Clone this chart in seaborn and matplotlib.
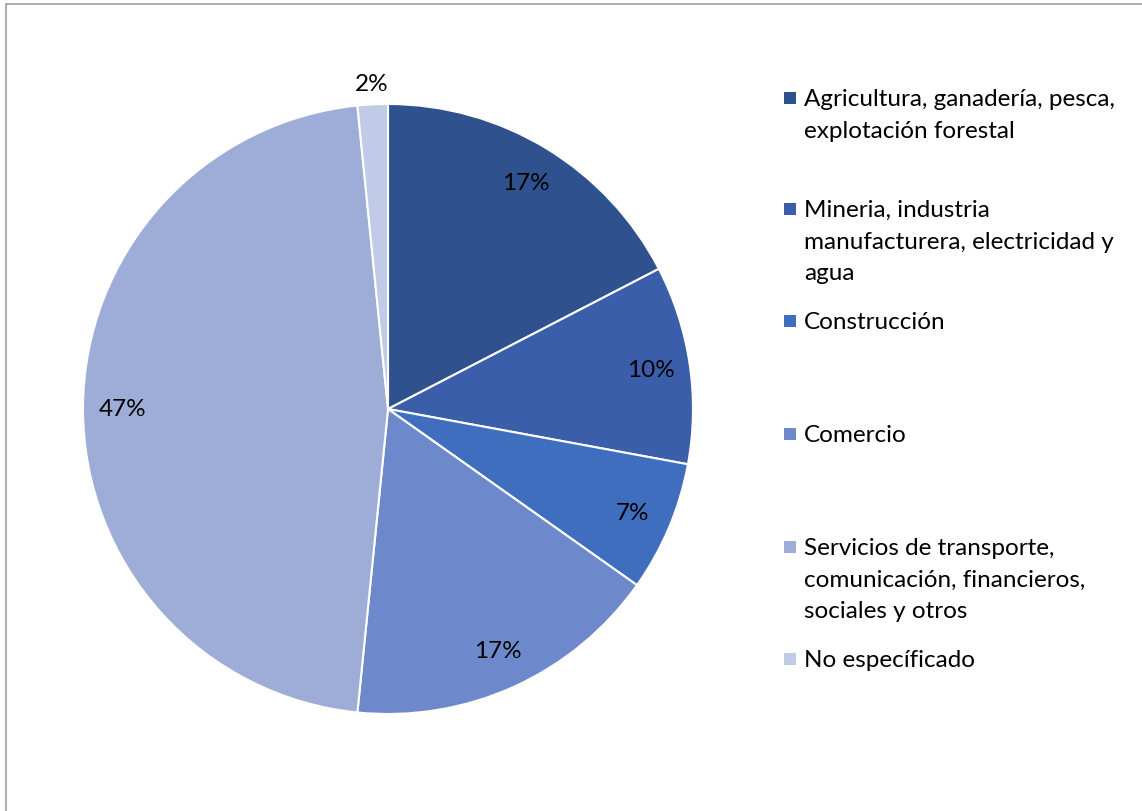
import numpy as np
import matplotlib
matplotlib.use("Agg")
import matplotlib.pyplot as plt
import seaborn as sns
from matplotlib.patches import Rectangle

categories = [
    "Agricultura, ganadería, pesca,\nexplotación forestal",
    "Mineria, industria\nmanufacturera, electricidad y\nagua",
    "Construcción",
    "Comercio",
    "Servicios de transporte,\ncomunicación, financieros,\nsociales y otros",
    "No específicado",
]
values = [17.4, 10.5, 6.9, 16.8, 46.8, 1.6]
labels_pct = ["17%", "10%", "7%", "17%", "47%", "2%"]
colors = ["#2F528F", "#3A5EA9", "#3F6EBF", "#6E89CB", "#9EADD8", "#C1CAE6"]

sns.set_theme(style="white")
plt.rcParams['font.family'] = ['Lato', 'DejaVu Sans']

W, H = 1142, 812
fig = plt.figure(figsize=(W / 100, H / 100), dpi=100)
fig.patch.set_facecolor("white")

cx, cy, R = 388, 410, 305
ax = fig.add_axes([(cx - R) / W, (H - cy - R) / H, 2 * R / W, 2 * R / H])
wedges, texts, autotexts = ax.pie(
    values, colors=colors, startangle=90, counterclock=False,
    autopct=lambda p: "", pctdistance=0.87, radius=1,
    wedgeprops=dict(edgecolor="white", linewidth=1.5),
)
for w, at, lab, i in zip(wedges, autotexts, labels_pct, range(len(values))):
    ang = np.deg2rad((w.theta1 + w.theta2) / 2)
    d = 1.07 if i == len(values) - 1 else 0.87
    at.set_position((d * np.cos(ang), d * np.sin(ang)))
    at.set_text(lab)
    at.set_fontsize(17.5)
    at.set_color("#000000")
    at.set_ha("center")
    at.set_va("center")
ax.set_xlim(-1, 1)
ax.set_ylim(-1, 1)
ax.set_aspect("equal")
ax.axis("off")

# legend (manual, top-aligned entries)
entry_y = [99, 210, 322, 435, 548, 660]
for lab, col, y in zip(categories, colors, entry_y):
    fig.patches.append(Rectangle((784 / W, (H - y - 6) / H), 12 / W, 12 / H,
                                 transform=fig.transFigure, facecolor=col,
                                 edgecolor="none"))
    fig.text(804 / W, (H - y + 10) / H, lab, fontsize=17.5, color="#000000",
             ha="left", va="top", linespacing=1.62,
             transform=fig.transFigure)

# border
fig.patches.append(Rectangle((6 / W, -0.01), 1.2, (H - 5) / H + 0.01,
                             transform=fig.transFigure, fill=False,
                             edgecolor="#A0A0A0", linewidth=1.2))

fig.savefig("out.png", dpi=100, facecolor="white")
